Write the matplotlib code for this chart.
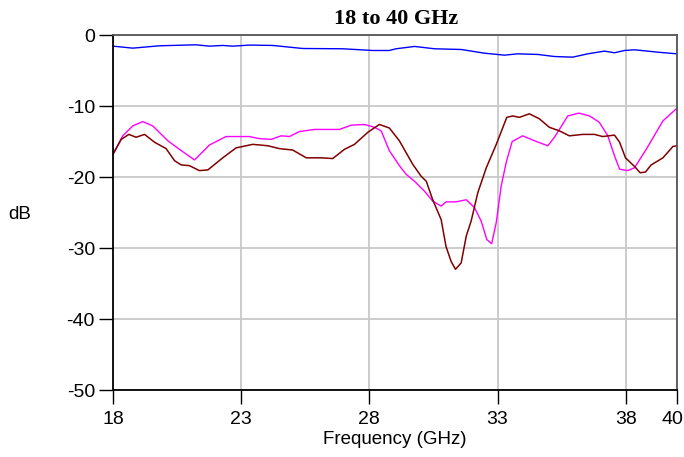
import numpy as np
import matplotlib
matplotlib.use('Agg')
from matplotlib import pyplot as plt
from matplotlib.transforms import ScaledTranslation

plt.rcParams['axes.unicode_minus'] = False

# traces (GHz, dB)
f_blue = [18.0, 18.77, 19.81, 21.24, 21.76, 22.28, 22.67, 23.32, 24.23, 25.4, 26.96,
          28.13, 28.78, 29.04, 29.76, 30.54, 31.58, 32.49, 33.27, 33.79, 34.57, 35.22,
          35.93, 36.52, 37.17, 37.56, 37.95, 38.34, 39.25, 40.0]
db_blue = [-1.57, -1.85, -1.52, -1.38, -1.57, -1.47, -1.57, -1.42, -1.47, -1.9, -1.94,
           -2.18, -2.18, -1.94, -1.61, -1.94, -2.04, -2.56, -2.84, -2.65, -2.74, -3.03,
           -3.12, -2.65, -2.27, -2.5, -2.18, -2.08, -2.42, -2.65]

f_mag = [18.0, 18.38, 18.77, 19.16, 19.55, 20.14, 20.59, 21.18, 21.76, 22.41, 23.32,
         23.71, 24.17, 24.56, 24.88, 25.27, 25.86, 26.83, 27.29, 27.81, 28.2, 28.46,
         28.78, 29.17, 29.43, 29.76, 30.15, 30.47, 30.8, 30.99, 31.38, 31.78, 32.1,
         32.36, 32.58, 32.77, 32.95, 33.14, 33.34, 33.57, 33.98, 34.37, 34.96, 35.22,
         35.74, 36.17, 36.59, 36.97, 37.3, 37.56, 37.76, 38.08, 38.34, 38.8, 39.45, 40.0]
db_mag = [-16.8, -14.2, -12.8, -12.2, -12.8, -14.9, -16.1, -17.6, -15.5, -14.3, -14.3,
          -14.6, -14.7, -14.2, -14.3, -13.6, -13.3, -13.3, -12.7, -12.6, -13.0, -13.5,
          -16.3, -18.4, -19.6, -20.6, -22.0, -23.4, -24.1, -23.5, -23.5, -23.2, -24.3,
          -26.2, -28.8, -29.4, -26.4, -21.3, -17.9, -15.0, -14.2, -14.8, -15.6, -14.4,
          -11.4, -11.0, -11.4, -12.3, -14.2, -17.0, -18.9, -19.1, -18.7, -16.1, -12.1, -10.3]

f_brn = [18.0, 18.32, 18.62, 18.9, 19.23, 19.62, 20.07, 20.4, 20.66, 20.98, 21.37,
         21.7, 22.28, 22.8, 23.45, 24.04, 24.49, 25.01, 25.54, 26.12, 26.57, 27.03,
         27.42, 27.94, 28.39, 28.78, 29.17, 29.69, 30.02, 30.22, 30.47, 30.8, 30.99,
         31.19, 31.36, 31.58, 31.78, 31.97, 32.23, 32.56, 32.95, 33.36, 33.59, 33.85,
         34.24, 34.63, 35.02, 35.41, 35.8, 36.32, 36.78, 37.1, 37.56, 37.76, 37.99,
         38.34, 38.56, 38.77, 38.99, 39.45, 39.84, 40.0]
db_brn = [-16.8, -14.7, -14.0, -14.4, -14.0, -15.1, -16.0, -17.7, -18.3, -18.4, -19.1,
          -19.0, -17.3, -15.9, -15.4, -15.6, -16.0, -16.2, -17.3, -17.3, -17.4, -16.1,
          -15.4, -13.7, -12.6, -13.1, -14.9, -18.2, -19.9, -20.6, -23.2, -26.0, -29.8,
          -31.9, -33.0, -32.1, -28.3, -26.2, -22.2, -18.7, -15.4, -11.6, -11.4, -11.6,
          -11.1, -11.8, -13.0, -13.5, -14.2, -14.0, -14.0, -14.3, -14.1, -15.1, -17.3,
          -18.5, -19.4, -19.3, -18.3, -17.3, -15.7, -15.6]

xticks = [18, 23, 28, 33, 38, 40]
yticks = [0, -10, -20, -30, -40, -50]

fig = plt.figure(figsize=(6.84, 4.57), dpi=100)
ax = fig.add_axes([0.1652, 0.1466, 0.8246, 0.7768])

ax.plot(f_blue, db_blue, color='#0000ff', lw=1.0)
ax.plot(f_mag, db_mag, color='#ff00ff', lw=1.0)
ax.plot(f_brn, db_brn, color='#800000', lw=1.1)

ax.set_xlim(18, 40)
ax.set_ylim(-50, 0)
ax.set_xticks(xticks)
ax.set_yticks(yticks)
ax.grid(True, color='#c8c8c8', lw=1.3)
ax.set_axisbelow(True)

for s in ['left', 'bottom']:
    ax.spines[s].set_color('black')
    ax.spines[s].set_linewidth(1.3)
for s in ['top', 'right']:
    ax.spines[s].set_color('#555555')
    ax.spines[s].set_linewidth(1.3)

ax.tick_params(direction='out', length=10, width=1, labelsize=14)
ax.tick_params(axis='x', pad=5)
ax.tick_params(axis='y', pad=3)
for lab in ax.get_xticklabels() + ax.get_yticklabels():
    lab.set_family('Liberation Sans')
# last x label sits pulled in from the edge
last = ax.get_xticklabels()[-1]
last.set_transform(last.get_transform() + ScaledTranslation(-0.05, 0, fig.dpi_scale_trans))

fig.text(396 / 684, 1 - 19 / 457, '18 to 40 GHz', family='Liberation Serif',
         fontweight='bold', fontsize=16, ha='center', va='center')
ax.set_xlabel('Frequency (GHz)', family='Liberation Sans', fontsize=13.5, labelpad=2)
ax.set_ylabel('dB', family='Liberation Sans', fontsize=13.5, rotation=0, va='center')
ax.yaxis.set_label_coords(-0.165, 0.493)

fig.savefig('out.png', dpi=100)
